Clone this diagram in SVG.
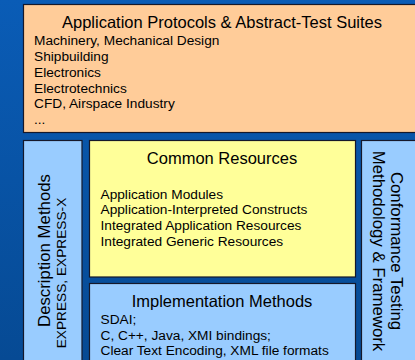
<svg xmlns="http://www.w3.org/2000/svg" width="415" height="360" viewBox="0 0 415 360">
  <defs>
    <linearGradient id="bg" x1="0" y1="0" x2="0" y2="1">
      <stop offset="0" stop-color="#0a5cb6"/>
      <stop offset="1" stop-color="#064a94"/>
    </linearGradient>
  </defs>
  <style>
    .box { stroke: #15182a; stroke-width: 1.2; }
    .orange { fill: #ffcc99; }
    .yellow { fill: #ffff99; }
    .blue { fill: #99ccff; }
    text { font-family: "Liberation Sans", Arial, sans-serif; fill: #000; }
    .title { font-size: 16.5px; text-anchor: middle; }
    .vtitle { font-size: 16.8px; text-anchor: middle; }
    .item { font-size: 13.7px; }
  </style>

  <rect x="0" y="0" width="415" height="360" fill="url(#bg)"/>

  <!-- Application protocols layer -->
  <g id="application-protocols">
    <rect class="box orange" x="23.5" y="4.5" width="400" height="128"/>
    <text class="title" x="222" y="28">Application Protocols &amp; Abstract-Test Suites</text>
    <text class="item" x="34" y="45">Machinery, Mechanical Design</text>
    <text class="item" x="34" y="61">Shipbuilding</text>
    <text class="item" x="34" y="76.8">Electronics</text>
    <text class="item" x="34" y="92.6">Electrotechnics</text>
    <text class="item" x="34" y="108.4">CFD, Airspace Industry</text>
    <text class="item" x="34" y="124.2">...</text>
  </g>

  <!-- Description methods column -->
  <g id="description-methods">
    <rect class="box blue" x="23.5" y="140.5" width="58.5" height="240"/>
    <text class="vtitle" transform="translate(50,250.5) rotate(-90)">Description Methods</text>
    <text class="item" text-anchor="middle" transform="translate(66,273) rotate(-90)">EXPRESS, EXPRESS-X</text>
  </g>

  <!-- Common resources -->
  <g id="common-resources">
    <rect class="box yellow" x="89.5" y="140.5" width="266" height="136.5"/>
    <text class="title" x="222" y="163.5">Common Resources</text>
    <text class="item" x="100.5" y="198.5">Application Modules</text>
    <text class="item" x="100.5" y="214.2">Application-Interpreted Constructs</text>
    <text class="item" x="100.5" y="229.9">Integrated Application Resources</text>
    <text class="item" x="100.5" y="245.6">Integrated Generic Resources</text>
  </g>

  <!-- Implementation methods -->
  <g id="implementation-methods">
    <rect class="box blue" x="89.5" y="283.5" width="266" height="100"/>
    <text class="title" x="222" y="306.5">Implementation Methods</text>
    <text class="item" x="100.5" y="323.5">SDAI;</text>
    <text class="item" x="100.5" y="339.5">C, C++, Java, XMI bindings;</text>
    <text class="item" x="100.5" y="355.3">Clear Text Encoding, XML file formats</text>
  </g>

  <!-- Conformance testing column -->
  <g id="conformance-testing">
    <rect class="box blue" x="361.5" y="140.5" width="60" height="240"/>
    <text class="vtitle" transform="translate(391,251) rotate(90)">Conformance Testing</text>
    <text class="vtitle" transform="translate(373,251) rotate(90)">Methodology &amp; Framework</text>
  </g>

  <g id="connectors"/>
</svg>
